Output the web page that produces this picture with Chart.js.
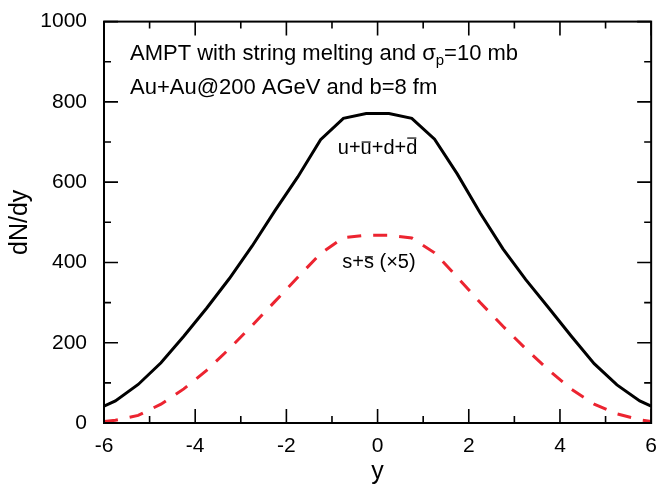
<!DOCTYPE html>
<html>
<head>
<meta charset="utf-8">
<script src="https://cdn.jsdelivr.net/npm/chart.js@4.4.1/dist/chart.umd.min.js"></script>
<style>
  html, body { margin: 0; padding: 0; background: #fff; }
  #wrap { width: 660px; height: 487px; }
</style>
</head>
<body>
<div id="wrap"><canvas id="chart"></canvas></div>
<script>
// rapidity bins and dN/dy
const rapidity = [-6, -5.75, -5.25, -4.75, -4.25, -3.75, -3.25, -2.75, -2.25, -1.75, -1.25, -0.75, -0.25,
                  0.25, 0.75, 1.25, 1.75, 2.25, 2.75, 3.25, 3.75, 4.25, 4.75, 5.25, 5.75, 6];
const lightQuarks = [42, 55, 96, 150, 216, 286, 360, 441, 529, 613, 706, 759, 771,
                     771, 759, 707, 620, 523, 434, 357, 287, 216, 148, 95, 55, 42];
const strangeQuarks = [4, 7, 19, 47, 85, 131, 185, 243, 303, 363, 422, 462, 468,
                       468, 461, 424, 363, 300, 241, 185, 132, 84, 47, 23, 8, 4];

const xTicks = [-6, -4, -2, 0, 2, 4, 6];
const xMinorTicks = [-5, -3, -1, 1, 3, 5];
const yTicks = [0, 200, 400, 600, 800, 1000];
const yMinorTicks = [100, 300, 500, 700, 900];

const FONT = "'Liberation Sans', Arial, sans-serif";

// draws a run of text pieces, some with an overline or as a subscript
function drawRich(ctx, parts, x, y, size, align) {
    const widths = parts.map(p => {
        ctx.font = (p.sub ? size * 0.68 : size) + 'px ' + FONT;
        return ctx.measureText(p.text).width;
    });
    const total = widths.reduce((a, b) => a + b, 0);
    let cx = align === 'center' ? x - total / 2 : x;
    parts.forEach((p, i) => {
        const s = p.sub ? size * 0.68 : size;
        ctx.font = s + 'px ' + FONT;
        ctx.fillText(p.text, cx, p.sub ? y + size * 0.25 : y);
        if (p.over) {
            const oy = y - size * (p.over === 'high' ? 0.78 : 0.58);
            ctx.beginPath();
            ctx.lineWidth = 1.2;
            ctx.moveTo(cx + 1, oy);
            ctx.lineTo(cx + widths[i] - 1, oy);
            ctx.stroke();
        }
        cx += widths[i];
    });
}

const framePlugin = {
    id: 'frame',
    afterDatasetsDraw(chart) {
        const {ctx, chartArea: a, scales: {x, y}} = chart;
        ctx.save();
        ctx.strokeStyle = '#000';
        ctx.lineWidth = 2;
        ctx.strokeRect(a.left, a.top, a.right - a.left, a.bottom - a.top);

        // inward ticks on all four sides
        ctx.lineWidth = 1.6;
        ctx.beginPath();
        const xt = (v, len) => {
            const px = x.getPixelForValue(v);
            ctx.moveTo(px, a.bottom); ctx.lineTo(px, a.bottom - len);
            ctx.moveTo(px, a.top); ctx.lineTo(px, a.top + len);
        };
        const yt = (v, len) => {
            const py = y.getPixelForValue(v);
            ctx.moveTo(a.left, py); ctx.lineTo(a.left + len, py);
            ctx.moveTo(a.right, py); ctx.lineTo(a.right - len, py);
        };
        xTicks.forEach(v => xt(v, 14));
        xMinorTicks.forEach(v => xt(v, 7));
        yTicks.forEach(v => yt(v, 14));
        yMinorTicks.forEach(v => yt(v, 7));
        ctx.stroke();

        // annotations
        ctx.fillStyle = '#000';
        ctx.textBaseline = 'alphabetic';
        ctx.textAlign = 'left';
        const lx = x.getPixelForValue(-5.43);
        drawRich(ctx, [{text: 'AMPT with string melting and \u03c3'}, {text: 'p', sub: true}, {text: '=10 mb'}],
                 lx, y.getPixelForValue(905), 22, 'left');
        drawRich(ctx, [{text: 'Au+Au@200 AGeV and b=8 fm'}], lx, y.getPixelForValue(820), 22, 'left');

        drawRich(ctx, [{text: 'u+'}, {text: 'u', over: 'low'}, {text: '+d+'}, {text: 'd', over: 'high'}],
                 x.getPixelForValue(0), y.getPixelForValue(671), 20, 'center');
        drawRich(ctx, [{text: 's+'}, {text: 's', over: 'low'}, {text: ' (\u00d75)'}],
                 x.getPixelForValue(0.03), y.getPixelForValue(385), 20, 'center');
        ctx.restore();
    }
};

const config = {
    type: 'line',
    data: {
        datasets: [
        {
            label: 'u+ubar+d+dbar',
            data: rapidity.map((r, i) => ({x: r, y: lightQuarks[i]})),
            borderColor: '#000',
            borderWidth: 3,
            pointRadius: 0,
            tension: 0
        },
        {
            label: 's+sbar (x5)',
            data: rapidity.map((r, i) => ({x: r, y: strangeQuarks[i]})),
            borderColor: '#ec2430',
            borderWidth: 3,
            borderDash: [14, 12],
            pointRadius: 0,
            tension: 0
        }]
    },
    options: {
        responsive: true,
        maintainAspectRatio: false,
        devicePixelRatio: 1,
        animation: false,
        layout: { padding: { left: 0, right: 5, top: 13, bottom: 0 } },
        plugins: { legend: { display: false }, tooltip: { enabled: false } },
        scales: {
            x: {
                type: 'linear',
                min: -6,
                max: 6,
                afterBuildTicks: s => { s.ticks = xTicks.map(v => ({value: v})); },
                afterFit: s => { s.height = 64; },
                grid: { display: false },
                border: { display: false },
                ticks: { color: '#000', font: { family: FONT, size: 21 }, padding: 3, maxRotation: 0,
                         callback: v => String(v) },
                title: { display: true, text: 'y', color: '#000', font: { family: FONT, size: 25 },
                         padding: { top: 0, bottom: 0 } }
            },
            y: {
                min: 0,
                max: 1000,
                afterBuildTicks: s => { s.ticks = yTicks.map(v => ({value: v})); },
                afterFit: s => { s.width = 104; },
                grid: { display: false },
                border: { display: false },
                ticks: { color: '#000', font: { family: FONT, size: 21 }, padding: 9,
                         callback: v => String(v) },
                title: { display: true, text: 'dN/dy', color: '#000', font: { family: FONT, size: 25 },
                         padding: { top: 5, bottom: 0 } }
            }
        }
    },
    plugins: [framePlugin]
};

new Chart(document.getElementById('chart'), config);
</script>
</body>
</html>
